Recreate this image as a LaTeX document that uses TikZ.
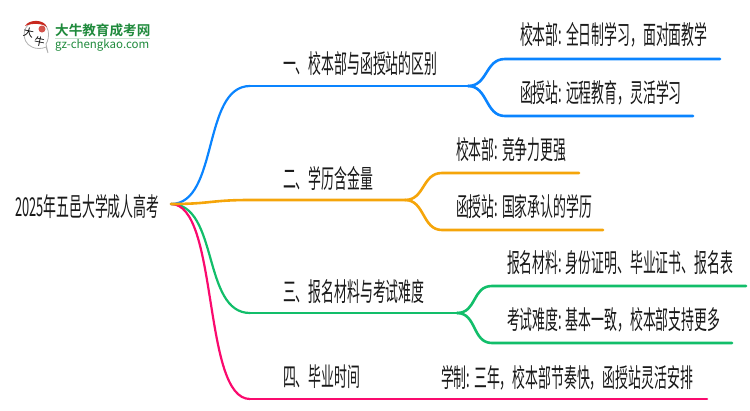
\documentclass[tikz,border=0pt]{standalone}
\usepackage{fontspec}
\setmainfont{Noto Sans CJK SC}[FakeStretch=0.495]
\newfontfamily\logofont{Noto Sans CJK SC}[BoldFont=* Bold]
\definecolor{mmblue}{HTML}{0A84FF}
\definecolor{mmorange}{HTML}{F5A50A}
\definecolor{mmgreen}{HTML}{12BE6A}
\definecolor{mmpink}{HTML}{FA0A6E}
\definecolor{logogreen}{HTML}{1F8A3C}
\definecolor{logored}{HTML}{C8281E}

\tikzset{
topic/.style={
  anchor=west,
  inner sep=0pt,
  outer sep=0pt,
  font=\fontsize{26}{26}\selectfont,
  text=black!90,
},
leaf/.style={topic},
branch/.style={line width=2.6pt, line cap=round},
sweep/.style={branch, line width=2.2pt},
logotext/.style={anchor=west, inner sep=0pt, text=logogreen},
}

\begin{document}
\begin{tikzpicture}[x=1pt,y=-1pt]
\useasboundingbox (0,0) rectangle (750,410);
              % logo
\draw[gray!60, fill=white, line width=.8pt] (36,22) .. controls (22,22) and (20,42) .. (32,47)
  .. controls (36,49) and (42,49) .. (46,47) -- (48,53) -- (46,44) .. controls (50,38) and (51,22) .. (36,22) -- cycle;
\fill[logored] (25,26) .. controls (29,19) and (44,19) .. (47,27) .. controls (42,23) and (31,23) .. (25,26) -- cycle;
\fill[logored!80] (42,29) circle (3.5pt);
\node[inner sep=0pt, font=\logofont\fontsize{10.5}{11}\selectfont, rotate=-12] (logo-da) at (28.5,33) {大};
\node[inner sep=0pt, font=\logofont\fontsize{10.5}{11}\selectfont, rotate=-12] (logo-niu) at (39.5,42) {牛};
\node[logotext, font=\logofont\bfseries\fontsize{13.6}{14}\selectfont] (logo-name) at (55,30) {大牛教育成考网};
\draw[logogreen!25, line width=1pt] (55,38.5) -- (150,38.5);
\node[logotext, font=\logofont\fontsize{11.5}{12}\selectfont] (logo-url) at (55,45) {gz-chengkao.com};
              % root
\node[topic] (root) at (15,207) {2025年五邑大学成人高考};
\coordinate (out) at (171,204);
              % level 1
\node[topic] (t-1) at (283,64) {一、校本部与函授站的区别};
\node[topic] (t-2) at (283,178) {二、学历含金量};
\node[topic] (t-3) at (283,292) {三、报名材料与考试难度};
\node[topic] (t-4) at (283,377) {四、毕业时间};
              % level 2
\node[leaf] (l-1a) at (520,35) {校本部: 全日制学习，面对面教学};
\node[leaf] (l-1b) at (520,93) {函授站: 远程教育，灵活学习};
\node[leaf] (l-2a) at (456,150) {校本部: 竞争力更强};
\node[leaf] (l-2b) at (456,207) {函授站: 国家承认的学历};
\node[leaf] (l-3a) at (507,263) {报名材料: 身份证明、毕业证书、报名表};
\node[leaf] (l-3b) at (507,320) {考试难度: 基本一致，校本部支持更多};
\node[leaf] (l-4a) at (441,378) {学制: 三年，校本部节奏快，函授站灵活安排};
              % joints
\coordinate (b-1) at (250,86);   \coordinate (f-1) at (468,86);
\coordinate (b-2) at (250,200);  \coordinate (f-2) at (405,200);
\coordinate (b-3) at (250,313);  \coordinate (f-3) at (457,313);
\coordinate (b-4) at (250,399);  \coordinate (e-4) at (707,399);
\coordinate (u-1) at (505,59);   \coordinate (e-1a) at (720,59);
\coordinate (d-1) at (505,116);  \coordinate (e-1b) at (693,116);
\coordinate (u-2) at (442,173);  \coordinate (e-2a) at (579,173);
\coordinate (d-2) at (442,230);  \coordinate (e-2b) at (603,230);
\coordinate (u-3) at (492,286);  \coordinate (e-3a) at (746,286);
\coordinate (d-3) at (492,343);  \coordinate (e-3b) at (732,343);
              % green
\draw[sweep, mmgreen] (out) .. controls +(48,0) and +(-48,0) .. (b-3);
\draw[branch, mmgreen] (b-3) -- (f-3);
\draw[branch, mmgreen] (f-3) .. controls +(20,0) and +(-20,0) .. (u-3) -- (e-3a);
\draw[branch, mmgreen] (f-3) .. controls +(20,0) and +(-20,0) .. (d-3) -- (e-3b);
              % pink
\draw[sweep, mmpink] (out) .. controls +(48,0) and +(-48,0) .. (b-4);
\draw[branch, mmpink] (b-4) -- (e-4);
              % blue
\draw[sweep, mmblue] (out) .. controls +(48,0) and +(-48,0) .. (b-1);
\draw[branch, mmblue] (b-1) -- (f-1);
\draw[branch, mmblue] (f-1) .. controls +(20,0) and +(-20,0) .. (u-1) -- (e-1a);
\draw[branch, mmblue] (f-1) .. controls +(20,0) and +(-20,0) .. (d-1) -- (e-1b);
              % orange
\draw[branch, mmorange] (out) .. controls +(40,0) and +(-40,0) .. (b-2) -- (f-2);
\draw[branch, mmorange] (f-2) .. controls +(20,0) and +(-20,0) .. (u-2) -- (e-2a);
\draw[branch, mmorange] (f-2) .. controls +(20,0) and +(-20,0) .. (d-2) -- (e-2b);
\end{tikzpicture}
\end{document}
